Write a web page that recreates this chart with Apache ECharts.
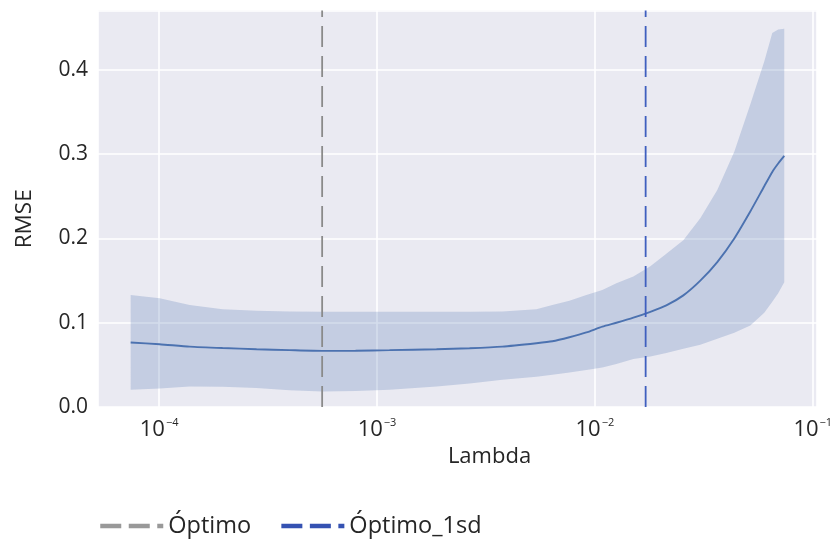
<!DOCTYPE html>
<html><head><meta charset="utf-8">
<script src="https://cdn.jsdelivr.net/npm/echarts@6/dist/echarts.min.js"></script>
<style>html,body{margin:0;padding:0;background:#fff}#c{width:830px;height:539px}</style>
</head><body><div id="c"></div>
<script>
// Lambda grid (x), mean RMSE and band (mean ± sd)
const lambdas = [7.40e-5, 1.005e-4, 1.38e-4, 1.955e-4, 2.80e-4, 3.97e-4, 5.62e-4, 7.97e-4, 1.141e-3, 1.875e-3,
  2.66e-3, 3.76e-3, 5.39e-3, 6.38e-3, 7.64e-3, 9.14e-3, 1.082e-2, 1.255e-2, 1.502e-2, 1.797e-2,
  2.128e-2, 2.547e-2, 3.047e-2, 3.646e-2, 4.364e-2, 5.167e-2, 5.991e-2, 6.52e-2, 6.94e-2, 7.40e-2];
const rmseMean = [0.0765, 0.0745, 0.0717, 0.0700, 0.0686, 0.0675, 0.0666, 0.0668, 0.0675, 0.0686,
  0.0698, 0.0717, 0.0757, 0.0780, 0.0828, 0.0885, 0.0954, 0.1000, 0.1060, 0.1130,
  0.1206, 0.1325, 0.1500, 0.1720, 0.2000, 0.2320, 0.2620, 0.2790, 0.2890, 0.2980];
const rmseLower = [0.0205, 0.0220, 0.0244, 0.0240, 0.0225, 0.0200, 0.0185, 0.0190, 0.0205, 0.0244,
  0.0280, 0.0323, 0.0360, 0.0382, 0.0410, 0.0440, 0.0470, 0.0510, 0.0570, 0.0600,
  0.0640, 0.0690, 0.0740, 0.0810, 0.0880, 0.0968, 0.1120, 0.1250, 0.1350, 0.1480];
const rmseUpper = [0.133, 0.129, 0.121, 0.116, 0.1143, 0.1135, 0.113, 0.113, 0.113, 0.113,
  0.113, 0.1135, 0.116, 0.121, 0.126, 0.133, 0.139, 0.147, 0.155, 0.167,
  0.182, 0.198, 0.224, 0.2576, 0.303, 0.359, 0.410, 0.444, 0.448, 0.449];
const optimo = 5.6e-4;
const optimo1sd = 1.71e-2;
const xTickExponents = ['−4', '−3', '−2', '−1'];
const xTickValues = [1e-4, 1e-3, 1e-2, 1e-1];
const yTickLabels = ['0.0', '0.1', '0.2', '0.3', '0.4'];
const xLabel = 'Lambda';
const yLabel = 'RMSE';
const legendNames = ['Óptimo', 'Óptimo_1sd'];

const FONT = 'Open Sans';
const TXT = '#262626';
const yMin = 0, yMax = 0.4705;

const chart = echarts.init(document.getElementById('c'), null, {renderer: 'canvas'});

const meanData = lambdas.map((x, i) => [x, rmseMean[i]]);

function xFmt(v) {
  for (let i = 0; i < xTickValues.length; i++) {
    if (Math.abs(Math.log10(v) - Math.log10(xTickValues[i])) < 1e-6) {
      return '{b|10}{e|' + xTickExponents[i] + '}';
    }
  }
  return '';
}
function yFmt(v) {
  const k = Math.round(v * 10);
  if (Math.abs(v * 10 - k) < 1e-6 && k >= 0 && k < yTickLabels.length) return yTickLabels[k];
  return '';
}

function renderBand(params, api) {
  if (params.dataIndex !== 0) return null;
  const pts = [];
  for (let i = 0; i < lambdas.length; i++) pts.push(api.coord([lambdas[i], rmseUpper[i]]));
  for (let i = lambdas.length - 1; i >= 0; i--) pts.push(api.coord([lambdas[i], rmseLower[i]]));
  return {type: 'polygon', shape: {points: pts}, style: {fill: 'rgba(76,114,176,0.24)'}, silent: true};
}

chart.setOption({
  animation: false,
  backgroundColor: '#ffffff',
  grid: {left: 98, right: 13, top: 10.6, bottom: 132, show: true, backgroundColor: '#EAEAF2', borderWidth: 0,
    outerBoundsMode: 'none', containLabel: false},
  xAxis: {
    type: 'log', logBase: 10, min: 5.24e-5, max: 0.1046,
    axisLine: {show: false}, axisTick: {show: false}, minorTick: {show: false},
    splitLine: {show: true, lineStyle: {color: '#ffffff', width: 1.6}},
    axisLabel: {
      margin: 10, formatter: xFmt, color: TXT, fontFamily: FONT,
      rich: {
        b: {fontSize: 22, fontFamily: FONT, color: TXT, lineHeight: 26},
        e: {fontSize: 11, fontFamily: FONT, color: TXT, verticalAlign: 'top', lineHeight: 14, padding: [0, 0, 0, 1]}
      }
    },
    name: xLabel, nameLocation: 'middle', nameGap: 37,
    nameTextStyle: {fontSize: 22, fontFamily: FONT, color: TXT, padding: [0, 0, 0, 64]}
  },
  yAxis: {
    type: 'value', min: yMin, max: yMax, interval: 0.1,
    axisLine: {show: false}, axisTick: {show: false},
    splitLine: {show: true, lineStyle: {color: '#ffffff', width: 1.6}},
    axisLabel: {margin: 10, formatter: yFmt, fontSize: 21, fontFamily: FONT, color: TXT},
    name: yLabel, nameLocation: 'middle', nameGap: 62,
    nameTextStyle: {fontSize: 22.5, fontFamily: FONT, color: TXT, padding: [0, 20, 0, 0]}
  },
  legend: {
    left: 93, top: 509, itemWidth: 63, itemHeight: 14, itemGap: 28,
    textStyle: {fontSize: 23.5, fontFamily: FONT, color: TXT},
    data: [
      {name: legendNames[0], itemStyle: {opacity: 0}, lineStyle: {width: 4.5, type: [21, 7.5], color: '#999999', cap: 'butt'}},
      {name: legendNames[1], itemStyle: {opacity: 0}, lineStyle: {width: 4.5, type: [21, 7.5], color: '#3552B2', cap: 'butt'}}
    ]
  },
  series: [
    {name: 'band', type: 'custom', renderItem: renderBand, data: [[lambdas[0], rmseLower[0]]],
      clip: true, silent: true, z: 1},
    {name: 'mean', type: 'line', data: meanData, symbol: 'none', smooth: 0.2,
      lineStyle: {color: '#4C72B0', width: 1.9}, z: 3},
    {name: legendNames[0], type: 'line', data: [[optimo, yMin], [optimo, yMax]], symbol: 'none',
      lineStyle: {color: '#8A8A8A', width: 1.8, type: [21, 9]}, z: 4},
    {name: legendNames[1], type: 'line', data: [[optimo1sd, yMin], [optimo1sd, yMax]], symbol: 'none',
      lineStyle: {color: '#3F5FBF', width: 1.8, type: [21, 9]}, z: 4}
  ]
});
</script>
</body></html>
